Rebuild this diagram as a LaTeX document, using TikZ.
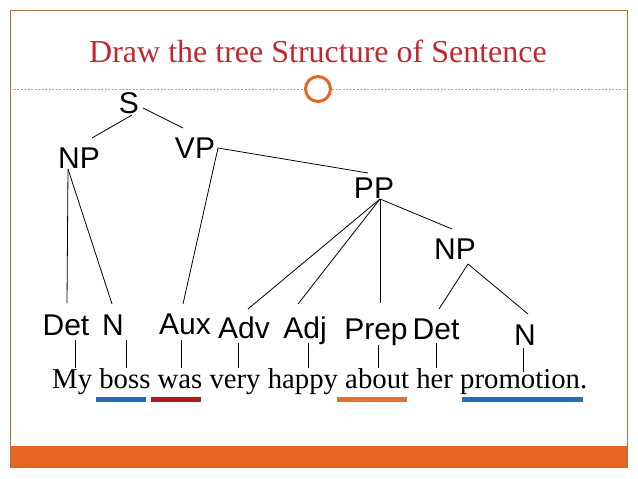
\documentclass[tikz,border=0pt]{standalone}
\usepackage{fontspec}
\setmainfont{Liberation Serif}
\newfontfamily\labfont{Liberation Sans}
\definecolor{titlered}{RGB}{192,39,48}
\definecolor{framebrown}{RGB}{176,110,66}
\definecolor{dashtan}{RGB}{200,160,120}
\definecolor{barorange}{RGB}{230,102,32}
\definecolor{ulblue}{RGB}{30,112,184}
\definecolor{ulred}{RGB}{176,26,26}
\definecolor{ulorange}{RGB}{228,112,42}
\tikzset{
  lab/.style={font=\labfont\fontsize{30}{30}\selectfont, inner sep=0pt, anchor=base},
  edge/.style={line width=0.8pt, black},
  tick/.style={line width=0.6pt, black},
  uline/.style={line width=5pt},
}
\begin{document}
\begin{tikzpicture}[x=1pt,y=-1pt]
\useasboundingbox (0,0) rectangle (638,479);
% frame
\fill[barorange] (10,446) rectangle (627,467);
\draw[framebrown, line width=1pt] (10,10) rectangle (627,467);
% title
\node[titlered, inner sep=0pt, anchor=base, font=\fontsize{32}{32}\selectfont] (title) at (318,62) {Draw the tree Structure of Sentence};
% dashed divider and circle
\node[circle, draw=barorange, line width=3pt, minimum size=25pt, inner sep=0pt] (ring) at (318,89) {};
\coordinate (dl) at (10,89);
\coordinate (dr) at (627,89);
\draw[dashtan, line width=0.6pt, dash pattern=on 2pt off 1.5pt] (dl) -- (ring.west);
\draw[dashtan, line width=0.6pt, dash pattern=on 2pt off 1.5pt] (ring.east) -- (dr);
% tree labels
\node[lab] (S) at (129,113) {S};
\node[lab] (NP) at (79,168) {NP};
\node[lab] (VP) at (195,158) {VP};
\node[lab] (PP) at (374,198) {PP};
\node[lab] (NPb) at (455,259) {NP};
\node[lab] (Det) at (66,335) {Det};
\node[lab] (N) at (113,335) {N};
\node[lab] (Aux) at (185,334) {Aux};
\node[lab] (Adv) at (244,338) {Adv};
\node[lab] (Adj) at (305,338) {Adj};
\node[lab] (Prep) at (376,339) {Prep};
\node[lab] (Detb) at (436,339) {Det};
\node[lab] (Nb) at (525,345) {N};
% connector points
\coordinate (S-l) at (132,115);
\coordinate (S-r) at (143,108);
\coordinate (NP-t) at (92,138);
\coordinate (VP-t) at (183,128);
\coordinate (NP-b) at (68,169);
\coordinate (VP-b) at (218,148);
\coordinate (PP-t) at (368,173);
\coordinate (PP-b) at (380,199);
\coordinate (NPb-t) at (452,229);
\coordinate (NPb-b) at (468,264);
\coordinate (Det-t) at (67,303);
\coordinate (N-t) at (112,304);
\coordinate (Aux-t) at (183,304);
\coordinate (Adv-t) at (248,309);
\coordinate (Adj-t) at (298,304);
\coordinate (Prep-t) at (380,303);
\coordinate (Detb-t) at (439,309);
\coordinate (Nb-t) at (528,314);
% tree edges
\draw[edge] (S-l) -- (NP-t);
\draw[edge] (S-r) -- (VP-t);
\draw[edge] (NP-b) -- (Det-t);
\draw[edge] (NP-b) -- (N-t);
\draw[edge] (VP-b) -- (Aux-t);
\draw[edge] (VP-b) -- (PP-t);
\draw[edge] (PP-b) -- (Adv-t);
\draw[edge] (PP-b) -- (Adj-t);
\draw[edge] (PP-b) -- (Prep-t);
\draw[edge] (PP-b) -- (NPb-t);
\draw[edge] (NPb-b) -- (Detb-t);
\draw[edge] (NPb-b) -- (Nb-t);
% sentence
\node[inner sep=0pt, anchor=base west, font=\fontsize{28.75}{30}\selectfont] (sent) at (52,388) {My boss was very happy about her promotion.};
% ticks from labels to words
\coordinate (w1) at (75,368);  \coordinate (t1) at (75,340);
\coordinate (w2) at (126,368); \coordinate (t2) at (126,340);
\coordinate (w3) at (181,368); \coordinate (t3) at (181,340);
\coordinate (w4) at (238,368); \coordinate (t4) at (238,343);
\coordinate (w5) at (308,368); \coordinate (t5) at (308,343);
\coordinate (w6) at (378,368); \coordinate (t6) at (378,345);
\coordinate (w7) at (436,368); \coordinate (t7) at (436,343);
\coordinate (w8) at (523,372); \coordinate (t8) at (523,348);
\foreach \i in {1,...,8} { \draw[tick] (t\i) -- (w\i); }
% underlines
\coordinate (u1a) at (96,399.5);  \coordinate (u1b) at (146,399.5);
\coordinate (u2a) at (151,399.5); \coordinate (u2b) at (201,399.5);
\coordinate (u3a) at (337,399.5); \coordinate (u3b) at (407,399.5);
\coordinate (u4a) at (462,399.5); \coordinate (u4b) at (583,399.5);
\draw[uline, ulblue] (u1a) -- (u1b);
\draw[uline, ulred] (u2a) -- (u2b);
\draw[uline, ulorange] (u3a) -- (u3b);
\draw[uline, ulblue] (u4a) -- (u4b);
\end{tikzpicture}
\end{document}
